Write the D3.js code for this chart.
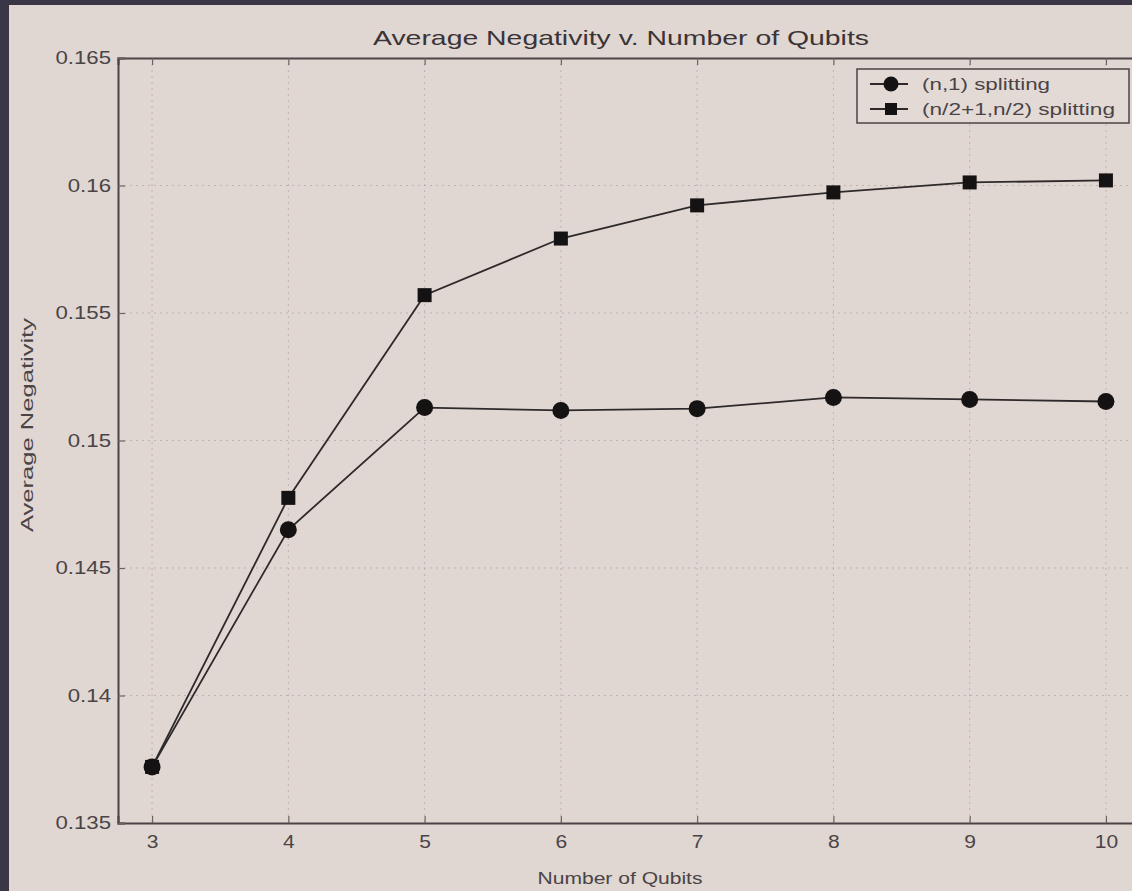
<!DOCTYPE html>
<html>
<head>
<meta charset="utf-8">
<script src="https://cdn.jsdelivr.net/npm/d3@7"></script>
<style>
  html, body { margin: 0; padding: 0; background: #3b3646; }
  svg { display: block; }
  text { font-family: "Liberation Sans", Arial, sans-serif; }
</style>
</head>
<body>
<svg id="chart" width="1132" height="891"></svg>
<script>
// data
const qubits = [3, 4, 5, 6, 7, 8, 9, 10];
const splitN1 = [0.1372, 0.1465, 0.15129, 0.15118, 0.15125, 0.15169, 0.15161, 0.15153];
const splitHalf = [0.1372, 0.14775, 0.1557, 0.15792, 0.15922, 0.15973, 0.16012, 0.1602];
const xTicks = [3, 4, 5, 6, 7, 8, 9, 10];
const yTicks = [0.135, 0.14, 0.145, 0.15, 0.155, 0.16, 0.165];
const seriesNames = ['(n,1) splitting', '(n/2+1,n/2) splitting'];

const svg = d3.select('#chart');
const W = 1132, H = 891;
const pLeft = 118, pTop = 58, pBottom = 823, pRight = 1140;

// the scanned figure has wide lettering, so stretch text along its run
function widen(sel, k) {
  sel.each(function() {
    const w = this.getComputedTextLength();
    d3.select(this).attr('textLength', w * k).attr('lengthAdjust', 'spacingAndGlyphs');
  });
}
function fitTo(sel, w) {
  sel.attr('textLength', w).attr('lengthAdjust', 'spacingAndGlyphs');
}

// page background + dark frame strips
svg.append('rect').attr('x', 0).attr('y', 0).attr('width', W).attr('height', H).attr('fill', '#3b3646');
svg.append('rect').attr('x', 9).attr('y', 5).attr('width', W - 9).attr('height', H - 5).attr('fill', '#e0d6d2');

const x = d3.scaleLinear().domain([2.75, 10.25]).range([pLeft, pRight]);
const y = d3.scaleLinear().domain([0.135, 0.165]).range([pBottom, pTop]);

// grid
const grid = svg.append('g').attr('stroke', '#bdb3b0').attr('stroke-width', 1).attr('stroke-dasharray', '2,4');
grid.selectAll('line.gx').data(xTicks).join('line')
  .attr('x1', d => x(d)).attr('x2', d => x(d)).attr('y1', pTop).attr('y2', pBottom);
grid.selectAll('line.gy').data(yTicks.slice(1, -1)).join('line')
  .attr('x1', pLeft).attr('x2', pRight).attr('y1', d => y(d)).attr('y2', d => y(d));

// axes (ticks inside, like matlab)
const axisColor = '#4a4446';
const xAxis = svg.append('g').attr('transform', `translate(0,${pBottom})`)
  .call(d3.axisBottom(x).tickValues(xTicks).tickSize(-7).tickPadding(13).tickFormat(d3.format('d')));
const xTop = svg.append('g').attr('transform', `translate(0,${pTop})`)
  .call(d3.axisTop(x).tickValues(xTicks).tickSize(-7).tickFormat(''));
const yAxis = svg.append('g').attr('transform', `translate(${pLeft},0)`)
  .call(d3.axisLeft(y).tickValues(yTicks).tickSize(-7).tickPadding(7).tickFormat(d => String(+d.toFixed(3))));

[xAxis, xTop, yAxis].forEach(g => {
  g.select('.domain').attr('stroke', axisColor).attr('stroke-width', 2);
  g.selectAll('.tick line').attr('stroke', '#6a6366').attr('stroke-width', 1.2);
  g.selectAll('.tick text').attr('fill', '#4a4446').attr('font-size', 17.5);
});
widen(xAxis.selectAll('.tick text'), 1.2);
widen(yAxis.selectAll('.tick text'), 1.27);

// lines
const line = d3.line().x((d, i) => x(qubits[i])).y(d => y(d));
svg.append('path').datum(splitN1).attr('d', line)
  .attr('fill', 'none').attr('stroke', '#2e2a2b').attr('stroke-width', 1.8);
svg.append('path').datum(splitHalf).attr('d', line)
  .attr('fill', 'none').attr('stroke', '#2e2a2b').attr('stroke-width', 1.8);

// markers
svg.append('g').selectAll('rect').data(splitHalf).join('rect')
  .attr('x', (d, i) => x(qubits[i]) - 7).attr('y', d => y(d) - 7)
  .attr('width', 14).attr('height', 14).attr('fill', '#151213');
svg.append('g').selectAll('circle').data(splitN1).join('circle')
  .attr('cx', (d, i) => x(qubits[i])).attr('cy', d => y(d))
  .attr('r', 8.5).attr('fill', '#151213');

// title and axis labels
const title = svg.append('text').attr('x', 621).attr('y', 45).attr('text-anchor', 'middle')
  .attr('font-size', 21).attr('fill', '#3a3436').text('Average Negativity v. Number of Qubits');
fitTo(title, 496);
const xLab = svg.append('text').attr('x', 620).attr('y', 884).attr('text-anchor', 'middle')
  .attr('font-size', 16).attr('fill', '#4a4446').text('Number of Qubits');
fitTo(xLab, 165);
const yLab = svg.append('text').attr('transform', 'translate(33,425) rotate(-90)').attr('text-anchor', 'middle')
  .attr('font-size', 16).attr('fill', '#4a4446').text('Average Negativity');
fitTo(yLab, 214);

// legend
const lg = svg.append('g');
lg.append('rect').attr('x', 857).attr('y', 69).attr('width', 272).attr('height', 54)
  .attr('fill', '#e3dad6').attr('stroke', '#4a4446').attr('stroke-width', 1.5);
const legendWidths = [128, 193];
seriesNames.forEach((name, i) => {
  const ly = 84 + i * 25;
  lg.append('line').attr('x1', 870).attr('x2', 908).attr('y1', ly).attr('y2', ly)
    .attr('stroke', '#2e2a2b').attr('stroke-width', 2);
  if (i === 0) {
    lg.append('circle').attr('cx', 891).attr('cy', ly).attr('r', 7.5).attr('fill', '#151213');
  } else {
    lg.append('rect').attr('x', 885).attr('y', ly - 6).attr('width', 12).attr('height', 12).attr('fill', '#151213');
  }
  const t = lg.append('text').attr('x', 922).attr('y', ly).attr('dy', '0.35em')
    .attr('font-size', 16).attr('fill', '#4a4446').text(name);
  fitTo(t, legendWidths[i]);
});
</script>
</body>
</html>
